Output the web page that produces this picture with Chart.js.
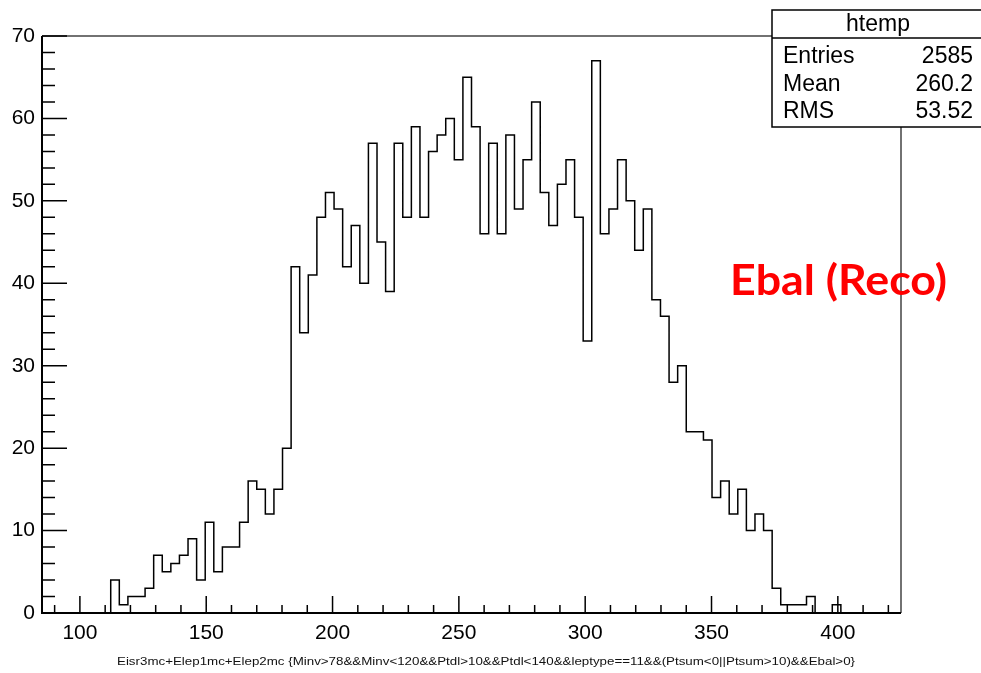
<!DOCTYPE html>
<html>
<head>
<meta charset="utf-8">
<script src="https://cdn.jsdelivr.net/npm/chart.js@4/dist/chart.umd.min.js"></script>
<style>
  html, body { margin: 0; padding: 0; background: #fff; }
  canvas { display: block; }
</style>
</head>
<body>
<canvas id="histo" width="981" height="673"></canvas>
<script>
// --- histogram data (htemp, 100 bins from 85 to 425) ---
const xMin = 85;
const xMax = 425;
const binWidth = 3.4;
const binCounts = [
    0, 0, 0, 0, 0, 0, 0, 0,
    4, 1, 2, 2, 3, 7, 5, 6, 7, 9, 4, 11, 5, 8, 8, 11, 16, 15, 12, 15, 20,
    42, 34, 41, 48, 51, 49, 42, 47, 40, 57, 45, 39, 57, 48, 59, 48, 56, 58, 60, 55,
    65, 59, 46, 57, 46, 58, 49, 55, 62, 51, 47, 52, 55, 48, 33, 67, 46,
    49, 55, 50, 44, 49, 38, 36, 28, 30, 22, 22, 21, 14, 16, 12, 15, 10, 12, 10,
    3, 1, 1, 1, 2, 0, 0, 1,
    0, 0, 0, 0, 0, 0, 0
];

// --- axes ---
const xMajorTicks = [100, 150, 200, 250, 300, 350, 400];
const xMinorTicks = [90, 110, 120, 130, 140, 160, 170, 180, 190, 210, 220, 230, 240, 260, 270, 280, 290,
                     310, 320, 330, 340, 360, 370, 380, 390, 410, 420];
const yMajorTicks = [0, 10, 20, 30, 40, 50, 60, 70];
const yMinorTicks = [2, 4, 6, 8, 12, 14, 16, 18, 22, 24, 26, 28, 32, 34, 36, 38, 42, 44, 46, 48,
                     52, 54, 56, 58, 62, 64, 66, 68];

// --- stats box and labels ---
const statsTitle = 'htemp';
const statsNames = ['Entries', 'Mean', 'RMS'];
const statsValues = ['2585', '260.2', '53.52'];
const xTitle = 'Eisr3mc+Elep1mc+Elep2mc {Minv>78&&Minv<120&&Ptdl>10&&Ptdl<140&&leptype==11&&(Ptsum<0||Ptsum>10)&&Ebal>0}';
const noteText = 'Ebal (Reco)';

// un punto por borde de bin: el valor del bin se dibuja hasta el borde siguiente
const points = [{ x: xMin, y: 0 }];
binCounts.forEach((c, i) => points.push({ x: xMin + (i + 1) * binWidth, y: c }));

const rootFont = '"Liberation Sans", Arial, sans-serif';

// ticks hacia dentro + marco, estilo ROOT
const frameTicks = {
    id: 'frameTicks',
    afterDatasetsDraw(chart) {
        const ctx = chart.ctx;
        const a = chart.chartArea;
        const xs = chart.scales.x, ys = chart.scales.y;
        ctx.save();
        // frame top/right
        ctx.strokeStyle = '#444';
        ctx.lineWidth = 1.5;
        ctx.beginPath();
        ctx.moveTo(a.left, a.top); ctx.lineTo(a.right, a.top); ctx.lineTo(a.right, a.bottom);
        ctx.stroke();
        // axes
        ctx.strokeStyle = '#000';
        ctx.lineWidth = 2;
        ctx.beginPath();
        ctx.moveTo(a.left, a.top); ctx.lineTo(a.left, a.bottom); ctx.lineTo(a.right, a.bottom);
        ctx.stroke();
        ctx.lineWidth = 1.5;
        ctx.beginPath();
        xMajorTicks.forEach(v => { const px = xs.getPixelForValue(v); ctx.moveTo(px, a.bottom); ctx.lineTo(px, a.bottom - 17); });
        xMinorTicks.forEach(v => { const px = xs.getPixelForValue(v); ctx.moveTo(px, a.bottom); ctx.lineTo(px, a.bottom - 8); });
        yMajorTicks.forEach(v => { const py = ys.getPixelForValue(v); ctx.moveTo(a.left, py); ctx.lineTo(a.left + 25, py); });
        yMinorTicks.forEach(v => { const py = ys.getPixelForValue(v); ctx.moveTo(a.left, py); ctx.lineTo(a.left + 13, py); });
        ctx.stroke();
        ctx.restore();
    },
    afterDraw(chart) {
        const ctx = chart.ctx;
        ctx.save();
        // stats box
        const bx = 772, by = 10, bw = 212, bh = 117;
        ctx.fillStyle = '#fff';
        ctx.fillRect(bx, by, bw, bh);
        ctx.strokeStyle = '#000';
        ctx.lineWidth = 1.5;
        ctx.strokeRect(bx, by, bw, bh);
        ctx.beginPath();
        ctx.moveTo(bx, 38); ctx.lineTo(bx + bw, 38);
        ctx.stroke();
        ctx.fillStyle = '#000';
        ctx.font = '23px ' + rootFont;
        ctx.textAlign = 'center';
        ctx.textBaseline = 'alphabetic';
        ctx.fillText(statsTitle, 878, 31);
        const rows = [63, 91, 118];
        statsNames.forEach((n, i) => {
            ctx.textAlign = 'left';
            ctx.fillText(n, 783, rows[i]);
            ctx.textAlign = 'right';
            ctx.fillText(statsValues[i], 973, rows[i]);
        });

        // red label
        ctx.font = 'bold 42px Lato, "Open Sans", sans-serif';
        ctx.fillStyle = '#ff0000';
        ctx.textAlign = 'left';
        let w = ctx.measureText(noteText).width;
        ctx.save();
        ctx.translate(730, 295);
        ctx.scale(217 / w, 1);
        ctx.fillText(noteText, 0, 0);
        ctx.restore();

        // x axis title (condensed)
        ctx.font = '11.5px ' + rootFont;
        ctx.fillStyle = '#111';
        w = ctx.measureText(xTitle).width;
        ctx.save();
        ctx.translate(117, 665);
        ctx.scale(738 / w, 1);
        ctx.fillText(xTitle, 0, 0);
        ctx.restore();
        ctx.restore();
    }
};

new Chart(document.getElementById('histo'), {
    type: 'line',
    data: {
        datasets: [{
            data: points,
            stepped: 'after',
            borderColor: '#000',
            borderWidth: 1.5,
            pointRadius: 0,
            fill: false
        }]
    },
    options: {
        responsive: false,
        animation: false,
        devicePixelRatio: 1,
        layout: { padding: { top: 36, right: 80, left: 0, bottom: 0 } },
        plugins: { legend: { display: false }, tooltip: { enabled: false }, title: { display: false } },
        scales: {
            x: {
                type: 'linear',
                min: xMin,
                max: xMax,
                grid: { display: false, drawTicks: false },
                border: { display: false },
                afterBuildTicks: (axis) => { axis.ticks = xMajorTicks.map(v => ({ value: v })); },
                afterFit: (s) => { s.height = 60; },
                ticks: {
                    autoSkip: false,
                    maxRotation: 0,
                    padding: 8,
                    color: '#000',
                    font: { family: rootFont, size: 21 },
                    callback: (v) => String(v)
                }
            },
            y: {
                min: 0,
                max: 70,
                grid: { display: false, drawTicks: false },
                border: { display: false },
                afterBuildTicks: (axis) => { axis.ticks = yMajorTicks.map(v => ({ value: v })); },
                afterFit: (s) => { s.width = 42; },
                ticks: {
                    autoSkip: false,
                    padding: 7,
                    color: '#000',
                    font: { family: rootFont, size: 21 },
                    callback: (v) => String(v)
                }
            }
        }
    },
    plugins: [frameTicks]
});
</script>
</body>
</html>
